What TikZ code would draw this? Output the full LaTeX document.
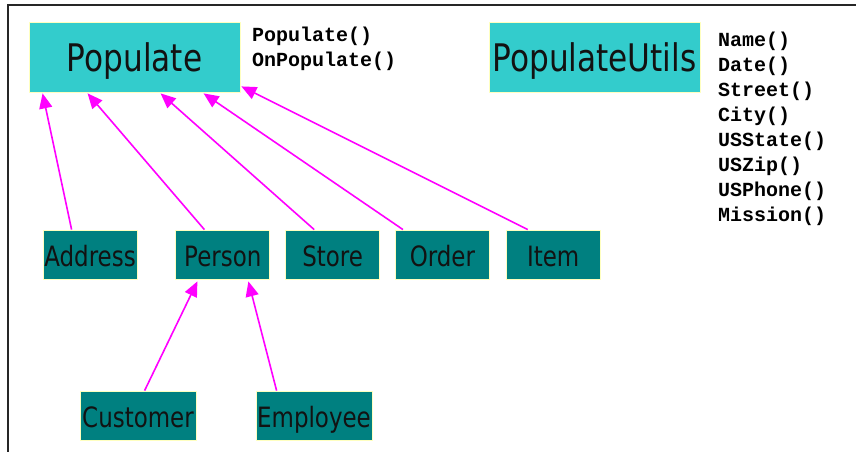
\documentclass[tikz,border=0pt]{standalone}
\usepackage{fontspec}
\usepackage{xcolor}
\usetikzlibrary{arrows.meta, positioning}

\newfontfamily\boxfont[FakeStretch=0.82]{DejaVu Sans}
\newfontfamily\codefont{Liberation Mono}

\definecolor{clsbig}{HTML}{33CCCC}
\definecolor{clssmall}{HTML}{008080}
\definecolor{clsedge}{HTML}{FFFFC0}
\definecolor{inherit}{HTML}{FF00FF}

\begin{document}
\begin{tikzpicture}[
            x=1pt, y=-1pt,
            node distance=15pt,
            bigclass/.style={
                    draw=clsedge,
                    line width=0.8pt,
                    fill=clsbig,
                    minimum width=211pt,
                    minimum height=70pt,
                    inner sep=0pt,
                    text height=28pt,
                    text depth=0pt,
                    text=black!93,
                    font=\boxfont\fontsize{38}{40}\selectfont
                },
            subclass/.style={
                    draw=clsedge,
                    line width=0.8pt,
                    fill=clssmall,
                    minimum width=94pt,
                    minimum height=49pt,
                    inner sep=0pt,
                    text height=23pt,
                    text depth=0pt,
                    text=black!93,
                    font=\boxfont\fontsize{28}{30}\selectfont
                },
            methods/.style={
                    anchor=north west,
                    inner sep=0pt,
                    align=left,
                    font=\codefont\bfseries\fontsize{20}{25}\selectfont
                },
            arrow/.style={
                    -{Triangle[length=15pt,width=13pt]},
                    line width=1.6pt,
                    inherit
                }
        ]

        \useasboundingbox (0,0) rectangle (856,452);

        % frame on top and left
        \draw[line width=2pt, black!85] (8,452) -- (8,5) -- (856,5);

        % base classes
        \node[bigclass] (populate) at (134.5,57) {Populate};
        \node[bigclass] (utils) at (594.5,57) {PopulateUtils};

        \node[methods] (popmeth) at (252,27)
        {
            Populate()\\
            OnPopulate()
        };

        \node[methods] (utilmeth) at (718,32)
        {
            Name()\\
            Date()\\
            Street()\\
            City()\\
            USState()\\
            USZip()\\
            USPhone()\\
            Mission()
        };

        % derived classes
        \node[subclass] (address) at (90,254.5) {Address};
        \node[subclass, right=38pt of address] (person) {Person};
        \node[subclass, right=of person] (store) {Store};
        \node[subclass, right=of store] (order) {Order};
        \node[subclass, right=16pt of order] (item) {Item};

        \node[subclass, minimum width=116pt] (customer) at (138,415.5) {Customer};
        \node[subclass, minimum width=116pt] (employee) at (314,415.5) {Employee};

        \draw[arrow] ([xshift=29pt]address.north west) -- ([xshift=14pt,yshift=-1pt]populate.south west);
        \draw[arrow] ([xshift=29pt]person.north west) -- ([xshift=59pt,yshift=-1pt]populate.south west);
        \draw[arrow] ([xshift=29pt]store.north west) -- ([xshift=132pt,yshift=-1pt]populate.south west);
        \draw[arrow] ([xshift=8pt]order.north west) -- ([xshift=175pt,yshift=-1pt]populate.south west);
        \draw[arrow] ([xshift=22pt]item.north west) -- ([xshift=1pt,yshift=6pt]populate.south east);

        \draw[arrow] ([xshift=65pt]customer.north west) -- ([xshift=22pt,yshift=-2pt]person.south west);
        \draw[arrow] ([xshift=21pt]employee.north west) -- ([xshift=73pt,yshift=-2pt]person.south west);

    \end{tikzpicture}
\end{document}
